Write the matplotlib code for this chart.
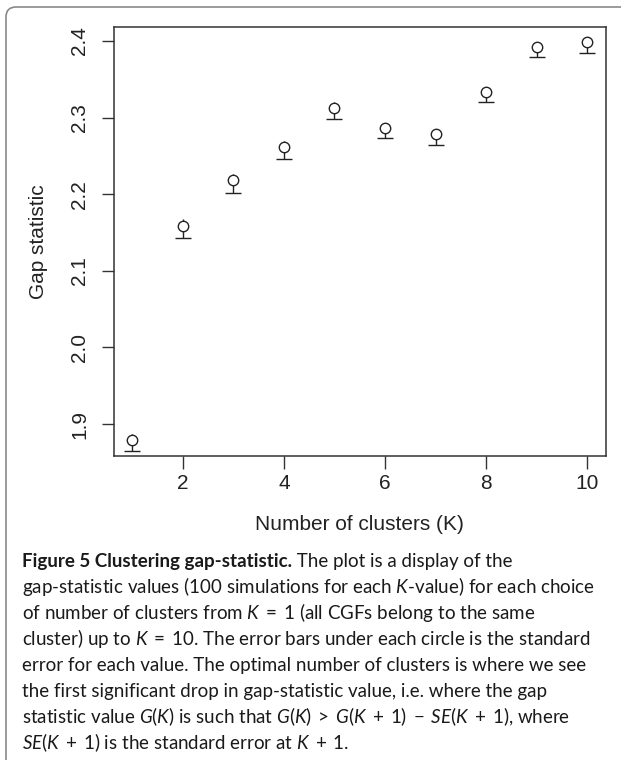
import matplotlib
matplotlib.use('Agg')
import matplotlib.pyplot as plt
from matplotlib.patches import FancyBboxPatch
import numpy as np

# Valores (gap statistic por número de clusters)
k = [1, 2, 3, 4, 5, 6, 7, 8, 9, 10]
gap = [1.879, 2.159, 2.218, 2.261, 2.313, 2.286, 2.278, 2.333, 2.392, 2.398]
se = [0.0146, 0.0163, 0.0159, 0.0154, 0.0146, 0.0132, 0.0137, 0.0127, 0.0128, 0.0132]
xticks = [2, 4, 6, 8, 10]
yticks = [1.9, 2.0, 2.1, 2.2, 2.3, 2.4]

caption_bold = "Figure 5 Clustering gap-statistic."
caption_lines = [
    " The plot is a display of the",
    "gap-statistic values (100 simulations for each $K$-value) for each choice",
    r"of number of clusters from $K\;=\;1$ (all CGFs belong to the same",
    r"cluster) up to $K\;=\;10$. The error bars under each circle is the standard",
    "error for each value. The optimal number of clusters is where we see",
    "the first significant drop in gap-statistic value, i.e. where the gap",
    r"statistic value $G(K)$ is such that $G(K)\;>\;G(K\;+\;1)\;-\;SE(K\;+\;1)$, where",
    r"$SE(K\;+\;1)$ is the standard error at $K\;+\;1$.",
]

W, H = 621, 760
plt.rcParams['font.family'] = ['Liberation Sans', 'DejaVu Sans']
plt.rcParams['mathtext.fontset'] = 'custom'
plt.rcParams['mathtext.rm'] = 'Lato'
plt.rcParams['mathtext.it'] = 'Lato:italic'
plt.rcParams['mathtext.bf'] = 'Lato:bold'

fig = plt.figure(figsize=(W / 100, H / 100), dpi=100)


def px(x, y):
    # pixels (a partir do canto superior esquerdo) -> fração da figura
    return x / W, 1 - y / H


left, top = px(114, 26.5)
right, bottom = px(605.5, 456)
ax = fig.add_axes([left, bottom, right - left, top - bottom])

# barras de erro (linha vertical até o topo do círculo, traço só embaixo)
g = np.array(gap)
s = np.array(se)
ax.vlines(k, g - s, g + s / 2, color='#222222', lw=1.0, zorder=2)
ax.plot(k, g - s, ls='none', marker='_', ms=12, mew=1.0, color='#222222', zorder=2)
ax.plot(k, gap, ls='none', marker='o', ms=7.5, mfc='white', mec='#222222', mew=1.0, zorder=3)

# limites no estilo do R (4% de folga)
ax.set_xlim(1 - 0.04 * 9, 10 + 0.04 * 9)
rng = max(gap) - min(gap)
ax.set_ylim(min(gap) - 0.04 * rng, max(gap) + 0.04 * rng)

ax.set_xticks(xticks)
ax.set_yticks(yticks)
ax.set_yticklabels([f"{v:.1f}" for v in yticks])
ax.tick_params(length=9, width=1.0, color='#333333', labelsize=15, labelcolor='#222222')
ax.tick_params(axis='x', pad=4)
ax.tick_params(axis='y', pad=9)
for lbl in ax.get_yticklabels():
    lbl.set_rotation(90)
    lbl.set_va('center')
for sp in ax.spines.values():
    sp.set_linewidth(1.1)
    sp.set_color('#333333')

ax.set_xlabel('Number of clusters (K)', fontsize=15, labelpad=15.5, color='#222222')
ax.set_ylabel('Gap statistic', fontsize=15, labelpad=15.5, color='#222222')

# moldura cinza do quadro da figura
frame = FancyBboxPatch((0.06, -0.5), 10, H / 100 - 0.07 + 0.5,
                       boxstyle="round,pad=0,rounding_size=0.1",
                       transform=fig.dpi_scale_trans, fill=False,
                       edgecolor='#8a8a8a', lw=1.2)
fig.add_artist(frame)

# legenda
cap_font = ['Lato', 'DejaVu Sans']
cap_size = 13.5
baselines = [567, 593, 619, 645, 671, 697, 723, 749]
x0, y0 = px(22, baselines[0])
t_bold = fig.text(x0, y0, caption_bold, fontsize=cap_size, fontweight='bold',
                  family=cap_font, va='baseline', color='#1a1a1a')
ax.annotate(caption_lines[0], xy=(1, 0), xycoords=t_bold, va='bottom', ha='left',
            fontsize=cap_size, family=cap_font, color='#1a1a1a', annotation_clip=False)
for line, yb in zip(caption_lines[1:], baselines[1:]):
    xf, yf = px(22, yb)
    fig.text(xf, yf, line, fontsize=cap_size, family=cap_font, va='baseline', color='#1a1a1a')

fig.savefig('out.png', dpi=100)
